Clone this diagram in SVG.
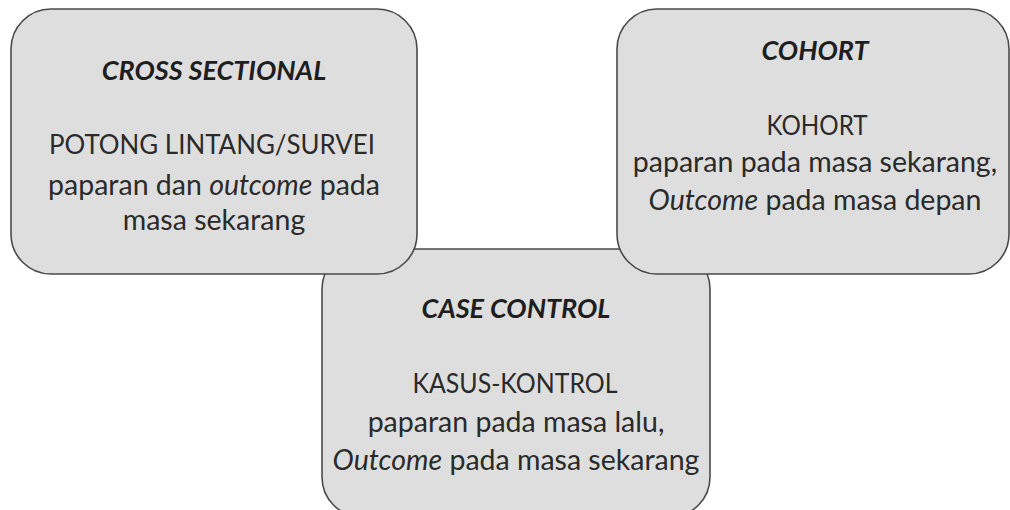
<svg xmlns="http://www.w3.org/2000/svg" width="1010" height="510" viewBox="0 0 1010 510">
  <style>
    .box { fill: #dedede; stroke: #4a4a4a; stroke-width: 1.6; }
    .title { font-family: Lato, "Liberation Sans", sans-serif; font-size: 27px; font-weight: bold; font-style: italic; fill: #1e1e1e; text-anchor: middle; }
    .body { font-family: Lato, "Liberation Sans", sans-serif; font-size: 28.5px; fill: #2a2a2a; text-anchor: middle; }
    .caps { font-size: 27px; }
    .it { font-style: italic; }
  </style>
  <rect width="1010" height="510" fill="#ffffff"/>

  <!-- case-control box sits underneath the two upper boxes -->
  <g id="case-control">
    <rect class="box" x="322" y="249" width="388" height="268" rx="40" ry="40"/>
    <text class="title" x="516" y="318">CASE CONTROL</text>
    <text class="body caps" x="515" y="393" textLength="205" lengthAdjust="spacingAndGlyphs">KASUS-KONTROL</text>
    <text class="body" x="516" y="432">paparan pada masa lalu,</text>
    <text class="body" x="516" y="470"><tspan class="it">Outcome</tspan> pada masa sekarang</text>
  </g>

  <g id="cross-sectional">
    <rect class="box" x="11" y="9" width="406" height="265" rx="40" ry="40"/>
    <text class="title" x="214" y="80">CROSS SECTIONAL</text>
    <text class="body caps" x="212" y="154" textLength="326" lengthAdjust="spacingAndGlyphs">POTONG LINTANG/SURVEI</text>
    <text class="body" x="214" y="195">paparan dan <tspan class="it">outcome</tspan> pada</text>
    <text class="body" x="214" y="230">masa sekarang</text>
  </g>

  <g id="cohort">
    <rect class="box" x="617" y="9" width="392" height="265" rx="40" ry="40"/>
    <text class="title" x="815" y="60">COHORT</text>
    <text class="body caps" x="817" y="135" textLength="101" lengthAdjust="spacingAndGlyphs">KOHORT</text>
    <text class="body" x="815" y="172">paparan pada masa sekarang,</text>
    <text class="body" x="815" y="210"><tspan class="it">Outcome</tspan> pada masa depan</text>
  </g>
</svg>
